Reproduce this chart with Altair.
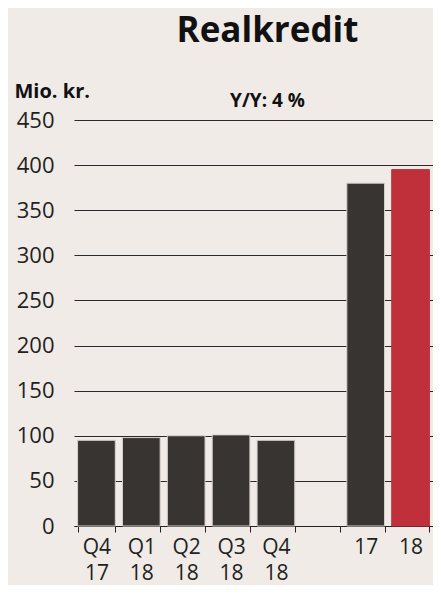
import altair as alt
import pandas as pd

categories = ["Q4 17", "Q1 18", "Q2 18", "Q3 18", "Q4 18", " ", "17", "18"]
values = [95, 98, 100, 101, 95, None, 380, 395]
kinds = ["q", "q", "q", "q", "q", "q", "q", "y"]
y_ticks = [0, 50, 100, 150, 200, 250, 300, 350, 400, 450]

df = pd.DataFrame({"cat": categories, "value": values, "kind": kinds})

FONT = "Open Sans"
BG = "#f0ebe6"

bars = alt.Chart(df).mark_bar(strokeWidth=1).encode(
    x=alt.X(
        "cat:N",
        sort=categories,
        scale=alt.Scale(domain=categories, paddingInner=0.16, paddingOuter=0.08),
        axis=alt.Axis(
            title=None,
            labelAngle=0,
            labelExpr="split(datum.label, ' ')",
            labelFont=FONT,
            labelFontSize=21,
            labelColor="#222222",
            labelLineHeight=26,
            labelPadding=4,
            labelBaseline="top",
            tickBand="extent",
            tickSize=6,
            tickColor="#222222",
            domainColor="#222222",
            grid=False,
        ),
    ),
    y=alt.Y(
        "value:Q",
        scale=alt.Scale(domain=[0, 450], nice=False),
        axis=alt.Axis(
            values=y_ticks,
            title="Mio. kr.",
            titleAngle=0,
            titleAlign="left",
            titleBaseline="alphabetic",
            titleX=-60,
            titleY=-23,
            titleFont=FONT,
            titleFontSize=20,
            titleFontWeight="bold",
            titleColor="#111111",
            labelFont=FONT,
            labelFontSize=22,
            labelColor="#222222",
            labelPadding=20,
            ticks=False,
            domain=False,
            grid=True,
            gridColor="#2a2a2a",
            gridWidth=1,
        ),
    ),
    color=alt.Color(
        "kind:N",
        scale=alt.Scale(domain=["q", "y"], range=["#383431", "#c0303a"]),
        legend=None,
    ),
    stroke=alt.Stroke(
        "kind:N",
        scale=alt.Scale(domain=["q", "y"], range=["#d6d1cb", "#c0303a"]),
        legend=None,
    ),
)

chart = bars.properties(
    width=359,
    height=406,
    padding={"left": 6, "top": 6, "right": 0, "bottom": 2},
    background=BG,
    title=alt.TitleParams(
        text="Realkredit",
        subtitle="Y/Y: 4 %",
        font=FONT,
        fontSize=35,
        fontWeight="bold",
        color="#111111",
        subtitleFont=FONT,
        subtitleFontSize=19,
        subtitleFontWeight="bold",
        subtitleColor="#111111",
        subtitlePadding=43,
        anchor="middle",
        dx=14,
        offset=-30,
    ),
).configure_view(stroke=None)

chart.save("out.html", embed_options={"renderer": "svg", "actions": False})
